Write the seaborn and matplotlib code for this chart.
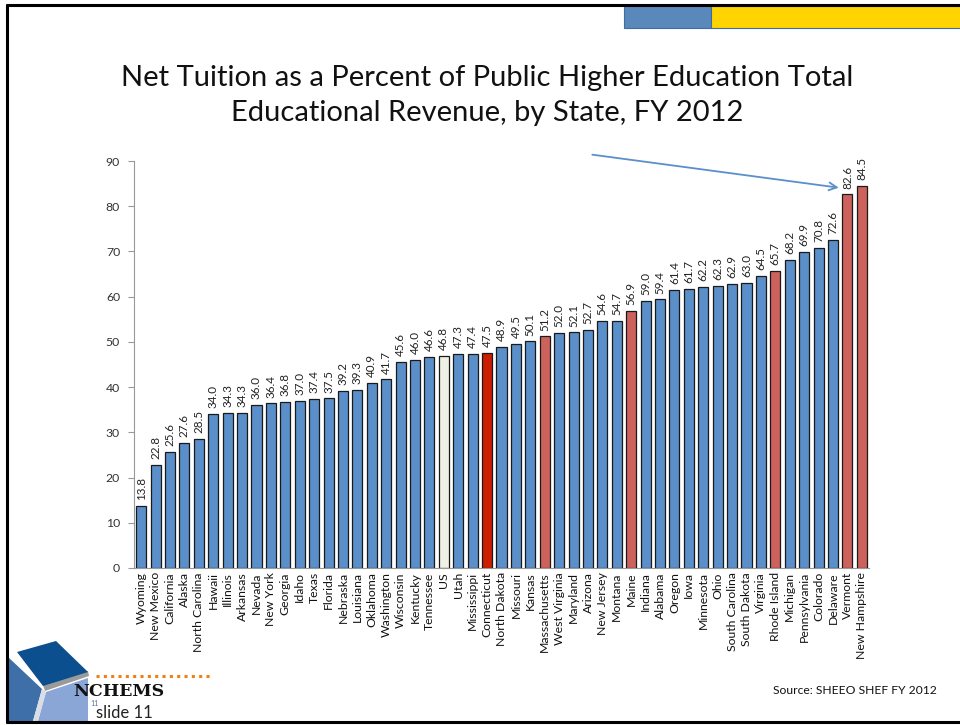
import matplotlib
matplotlib.use("Agg")
import matplotlib.pyplot as plt
import seaborn as sns
import numpy as np
from matplotlib.patches import Rectangle, Polygon
from matplotlib.lines import Line2D

states = ["Wyoming", "New Mexico", "California", "Alaska", "North Carolina", "Hawaii",
          "Illinois", "Arkansas", "Nevada", "New York", "Georgia", "Idaho", "Texas",
          "Florida", "Nebraska", "Louisiana", "Oklahoma", "Washington", "Wisconsin",
          "Kentucky", "Tennessee", "US", "Utah", "Mississippi", "Connecticut",
          "North Dakota", "Missouri", "Kansas", "Massachusetts", "West Virginia",
          "Maryland", "Arizona", "New Jersey", "Montana", "Maine", "Indiana", "Alabama",
          "Oregon", "Iowa", "Minnesota", "Ohio", "South Carolina", "South Dakota",
          "Virginia", "Rhode Island", "Michigan", "Pennsylvania", "Colorado", "Delaware",
          "Vermont", "New Hampshire"]
net_tuition_pct = [13.8, 22.8, 25.6, 27.6, 28.5, 34.0, 34.3, 34.3, 36.0, 36.4, 36.8, 37.0,
                   37.4, 37.5, 39.2, 39.3, 40.9, 41.7, 45.6, 46.0, 46.6, 46.8, 47.3, 47.4,
                   47.5, 48.9, 49.5, 50.1, 51.2, 52.0, 52.1, 52.7, 54.6, 54.7, 56.9, 59.0,
                   59.4, 61.4, 61.7, 62.2, 62.3, 62.9, 63.0, 64.5, 65.7, 68.2, 69.9, 70.8,
                   72.6, 82.6, 84.5]
home_state = "Connecticut"
new_england = ["Massachusetts", "Maine", "Rhode Island", "Vermont", "New Hampshire"]
national = "US"
y_ticks = [0, 10, 20, 30, 40, 50, 60, 70, 80, 90]

BLUE = "#5b8fc9"
RED = "#cc1e00"
SALMON = "#cd615c"
IVORY = "#eef0e5"

palette = {}
for s in states:
    if s == home_state:
        palette[s] = RED
    elif s in new_england:
        palette[s] = SALMON
    elif s == national:
        palette[s] = IVORY
    else:
        palette[s] = BLUE

sns.set_style("white")
plt.rcParams["font.family"] = ["Lato", "DejaVu Sans"]

fig = plt.figure(figsize=(9.6, 7.25), dpi=100)
W, H = 960, 725

ax = fig.add_axes([134 / W, 1 - 568 / H, (869 - 134) / W, (568 - 161) / H])
sns.barplot(x=states, y=net_tuition_pct, hue=states, palette=palette, legend=False,
            width=0.7, edgecolor="#1a1a1a", linewidth=0.9, saturation=1, ax=ax)

ax.set_ylim(0, 90)
ax.set_xlim(-0.5, len(states) - 0.5)
ax.set_yticks(y_ticks)
ax.set_yticklabels([str(t) for t in y_ticks], fontsize=8.8, color="#333333")
ax.set_xticks(range(len(states)))
ax.set_xticklabels(states, rotation=90, fontsize=8.8, color="#111111")
ax.tick_params(axis="x", length=0, pad=3)
ax.set_xticks(np.arange(-0.5, len(states), 1), minor=True)
ax.tick_params(axis="x", which="minor", length=4, color="#999999", direction="out")
ax.tick_params(axis="y", length=4, color="#999999", direction="out", left=True, pad=6)
for side in ["top", "right"]:
    ax.spines[side].set_visible(False)
for side in ["left", "bottom"]:
    ax.spines[side].set_color("#999999")
    ax.spines[side].set_linewidth(0.8)

for i, v in enumerate(net_tuition_pct):
    ax.text(i, v + 1.3, f"{v:.1f}", rotation=90, ha="center", va="bottom",
            fontsize=8.4, color="#222222")

# arrow pointing at the top of the Vermont bar
vt = states.index("Vermont")
ax.annotate("", xy=(vt - 0.6, 84.1), xytext=(31.3, 91.4), annotation_clip=False,
            arrowprops=dict(arrowstyle="->", color="#5b8fc9", lw=1.3,
                            mutation_scale=14, shrinkA=0, shrinkB=0))

# title
fig.text(487 / W, 1 - 78 / H, "Net Tuition as a Percent of Public Higher Education Total",
         ha="center", va="center", fontsize=21, color="#111111")
fig.text(487 / W, 1 - 113 / H, "Educational Revenue, by State, FY 2012",
         ha="center", va="center", fontsize=21, color="#111111")

# slide frame
def px(x, y):
    return x / W, 1 - y / H

frame_kw = dict(color="black", lw=2.2, transform=fig.transFigure)
fig.add_artist(Line2D([7 / W, 1], [1 - 5 / H, 1 - 5 / H], **frame_kw))
fig.add_artist(Line2D([7 / W, 7 / W], [1 - 5 / H, 1 - 722 / H], **frame_kw))
fig.add_artist(Line2D([7 / W, 1], [1 - 722 / H, 1 - 722 / H], **frame_kw))

# header bars
fig.add_artist(Rectangle(px(624, 28), 87 / W, 22 / H, transform=fig.transFigure,
                         facecolor="#5a88bb", edgecolor="#3c6da3", lw=0.8))
fig.add_artist(Rectangle(px(711, 28), 250 / W, 22 / H, transform=fig.transFigure,
                         facecolor="#ffd400", edgecolor="#3c6da3", lw=0.8))

# logo cube
def poly(pts, fc, ec="none", lw=0):
    fig.add_artist(Polygon([px(x, y) for x, y in pts], closed=True,
                           transform=fig.transFigure, facecolor=fc, edgecolor=ec, lw=lw))

poly([(8, 657), (42, 689), (33, 721), (8, 721)], "#3f6fa8")
poly([(46, 692), (88, 678), (88, 721), (38, 721)], "#8aa6d6")
poly([(42, 689), (46, 692), (38, 721), (33, 721)], "#d8dde6")
poly([(43, 685), (88, 671), (89, 676), (45, 691)], "#9a9a9a")
poly([(17, 652), (56, 641), (88, 672), (43, 686)], "#0b4f8f")

# dotted rule
fig.add_artist(Line2D([96 / W, 212 / W], [1 - 676 / H, 1 - 676 / H], color="#f07f12",
                      lw=2.2, ls=(0, (1, 1.4)), transform=fig.transFigure))
fig.text(73 / W, 1 - 691 / H, "NCHEMS", fontsize=12.5, fontweight="bold",
         family="DejaVu Serif", ha="left", va="center", color="#111111")
fig.text(90 / W, 1 - 703 / H, "11", fontsize=5, color="#4a6fb0", ha="left", va="center")
fig.text(96 / W, 1 - 713 / H, "slide 11", fontsize=12, color="#222222",
         ha="left", va="center")

fig.text(773 / W, 1 - 690 / H, "Source: SHEEO SHEF FY 2012", fontsize=8.7,
         color="#111111", ha="left", va="center")

fig.savefig("out.png", dpi=100)
